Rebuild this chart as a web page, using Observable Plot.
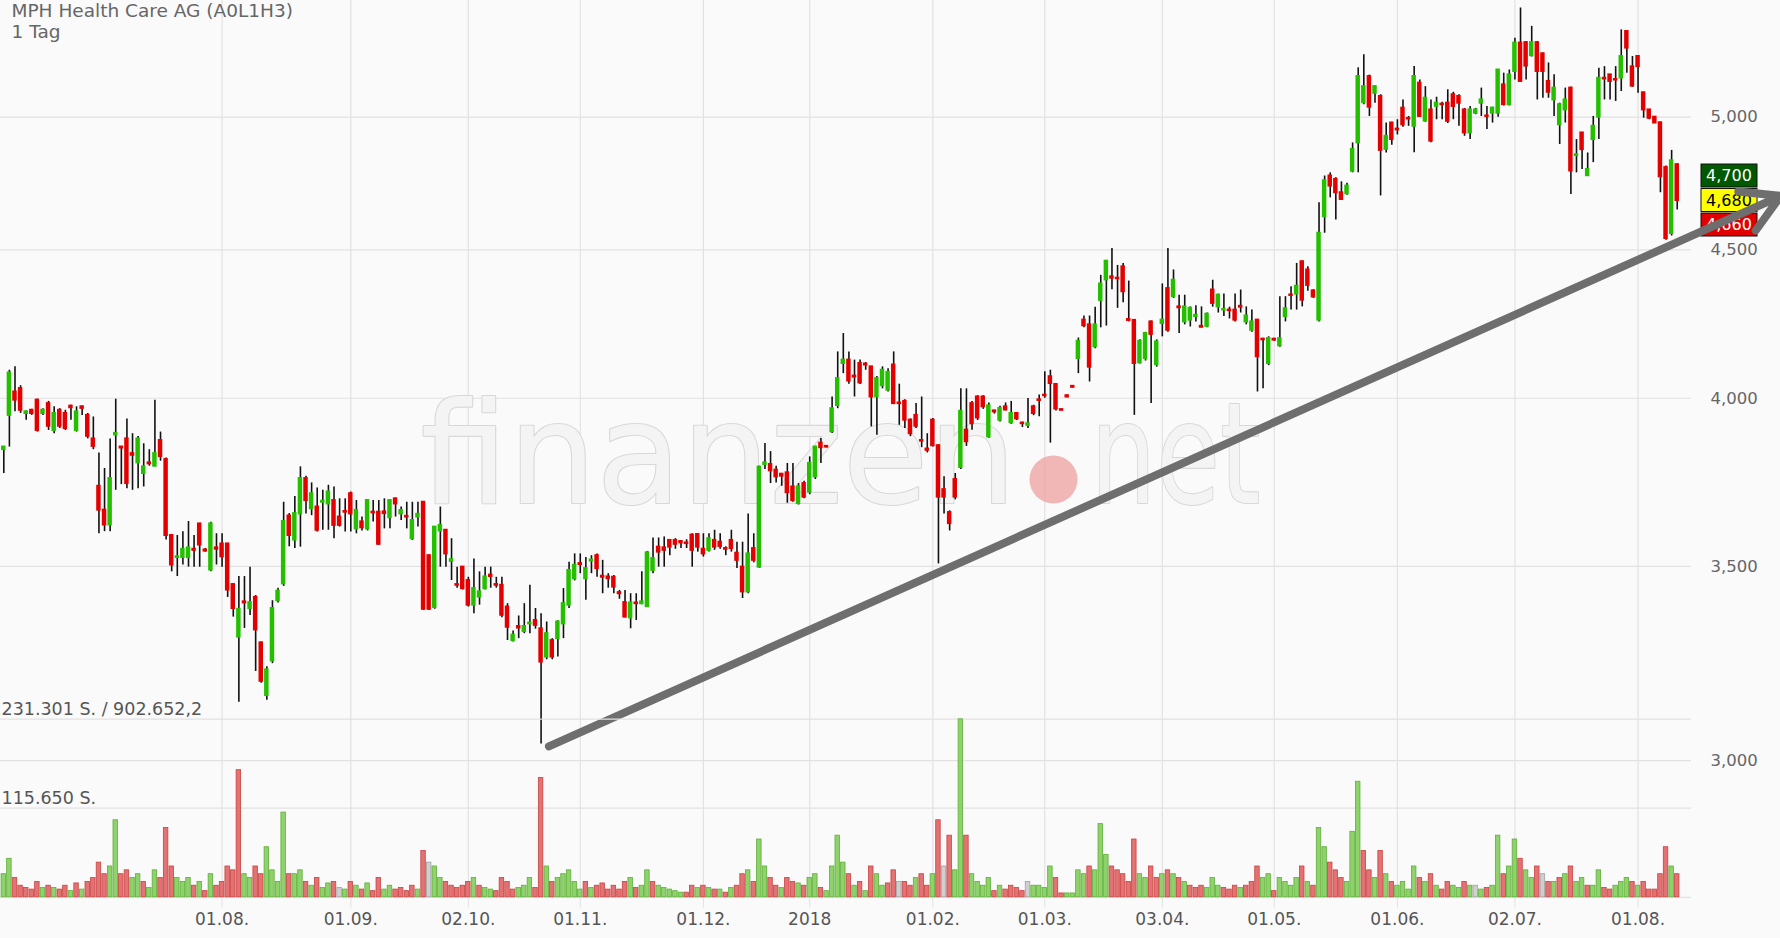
<!DOCTYPE html>
<html><head><meta charset="utf-8">
<script src="https://cdn.jsdelivr.net/npm/d3@7"></script>
<script src="https://cdn.jsdelivr.net/npm/@observablehq/plot@0.6"></script>
<style>
html,body{margin:0;padding:0;background:#fafafa;}
#wrap{position:relative;width:1780px;height:938px;overflow:hidden;background:#fafafa;}
#wrap svg{position:absolute;left:0;top:0;}
</style></head><body><div id="wrap"></div>
<script>
// daily candles [open, high, low, close], late June 2017 .. early August 2018
const ohlc = [
[3840,3850,3768,3848],[3946,4090,3848,4081],[4020,4101,3957,3994],[4031,4040,3952,3962],[3952,3960,3931,3957],
[3962,3965,3946,3952],[3994,3997,3894,3899],[3952,3967,3946,3962],[3983,3990,3899,3912],[3899,3973,3889,3952],
[3962,3967,3905,3912],[3952,3962,3899,3905],[3975,3978,3931,3970],[3899,3973,3894,3957],[3973,3975,3946,3968],
[3946,3952,3873,3881],[3873,3941,3840,3850],[3730,3830,3592,3660],[3660,3783,3598,3617],[3617,3873,3598,3753],
[3885,3997,3718,3890],[3848,3850,3735,3845],[3873,3935,3723,3738],[3828,3889,3718,3823],[3800,3880,3723,3873],
[3768,3858,3728,3788],[3800,3840,3790,3797],[3790,3994,3788,3828],[3868,3894,3805,3819],[3810,3815,3574,3587],
[3587,3590,3485,3504],[3525,3587,3472,3527],[3525,3598,3504,3548],[3525,3627,3498,3552],[3548,3587,3498,3545],
[3620,3622,3498,3560],[3546,3550,3540,3543],[3490,3625,3485,3620],[3552,3592,3504,3548],[3563,3592,3498,3527],
[3563,3565,3415,3435],[3450,3452,3362,3385],[3309,3472,3142,3383],[3403,3472,3332,3400],[3385,3498,3366,3401],
[3415,3420,3220,3328],[3294,3296,3190,3195],[3159,3232,3147,3224],[3247,3406,3240,3385],[3406,3440,3400,3432],
[3452,3683,3445,3627],[3643,3650,3555,3587],[3574,3700,3550,3650],[3649,3788,3554,3753],
[3753,3760,3649,3688],[3664,3740,3644,3708],[3669,3725,3597,3602],[3683,3718,3602,3686],[3678,3733,3602,3713],
[3688,3728,3578,3616],[3640,3693,3611,3616],[3656,3693,3597,3654],[3708,3713,3597,3649],[3606,3688,3592,3659],
[3626,3640,3600,3609],[3606,3690,3600,3688],[3654,3688,3626,3652],[3654,3688,3559,3562],[3655,3693,3606,3650],
[3638,3690,3606,3688],[3693,3695,3640,3678],[3649,3669,3630,3659],[3642,3683,3606,3640],[3578,3683,3573,3630],
[3640,3683,3611,3648],[3683,3685,3380,3383],[3530,3532,3380,3383],[3388,3611,3383,3611],[3600,3669,3498,3616],
[3602,3604,3498,3535],[3514,3578,3461,3519],[3450,3498,3440,3448],[3498,3500,3435,3439],[3461,3470,3389,3394],
[3394,3521,3371,3439],[3416,3485,3394,3430],[3439,3498,3435,3471],[3476,3498,3440,3472],[3450,3470,3440,3448],
[3448,3470,3360,3367],[3389,3398,3300,3335],[3300,3325,3296,3314],[3337,3365,3305,3333],[3324,3398,3318,3337],
[3344,3448,3318,3346],[3353,3385,3330,3340],[3331,3371,3040,3244],[3257,3349,3250,3318],[3300,3305,3250,3257],
[3305,3352,3257,3349],[3344,3439,3305,3398],[3394,3512,3385,3489],[3466,3535,3460,3503],[3508,3535,3480,3505],
[3466,3525,3407,3494],[3515,3530,3480,3518],[3530,3535,3470,3494],[3473,3517,3425,3470],[3471,3480,3440,3466],
[3470,3475,3425,3443],[3428,3434,3410,3425],[3401,3434,3360,3362],[3360,3425,3331,3400],[3400,3425,3353,3398],
[3398,3485,3395,3403],[3390,3542,3388,3538],[3489,3580,3480,3522],[3554,3580,3498,3540],[3552,3583,3498,3545],
[3573,3573,3530,3554],[3573,3578,3548,3562],[3570,3573,3550,3566],[3566,3575,3550,3564],[3588,3592,3498,3545],
[3590,3592,3540,3554],[3548,3592,3526,3535],[3545,3592,3540,3578],[3573,3602,3545,3554],[3568,3592,3548,3556],
[3550,3555,3530,3548],[3573,3602,3540,3550],[3537,3568,3494,3517],[3498,3568,3412,3430],[3430,3649,3425,3535],
[3550,3592,3510,3517],[3498,3790,3495,3787],[3795,3859,3780,3800],[3795,3834,3738,3776],[3778,3790,3740,3758],
[3766,3768,3730,3760],[3770,3798,3680,3711],[3728,3798,3683,3688],[3679,3738,3675,3728],[3738,3745,3693,3698],
[3713,3818,3705,3798],[3758,3850,3750,3848],[3860,3874,3798,3846],[3850,3852,3845,3848],[3895,4004,3890,3967],
[3977,4150,3967,4063],[4112,4211,4079,4123],[4123,4150,4045,4055],[4071,4123,4004,4068],[4112,4123,4044,4049],
[4110,4115,4090,4107],[4101,4101,3910,4004],[4004,4070,3884,4063],[4040,4101,4030,4090],[4026,4095,4020,4083],
[4107,4150,3980,3983],[3985,4045,3915,3983],[3990,3995,3905,3931],[3931,3935,3880,3889],[3946,3983,3905,3912],
[3868,4004,3846,3866],[3842,3889,3830,3838],[3931,3936,3848,3852],[3852,3855,3507,3698],[3720,3758,3649,3698],
[3653,3658,3600,3621],[3750,3768,3690,3698],[3786,4030,3780,3959],[3900,4030,3850,3864],[3983,3990,3900,3920],
[4004,4008,3930,3938],[4004,4008,3965,3973],[3879,3985,3875,3976],[3960,3962,3950,3957],[3931,3975,3925,3968],
[3973,3985,3960,3963],[3923,3990,3918,3952],[3952,3955,3930,3935],[3922,3925,3908,3920],[3915,3999,3905,3920],
[3973,3978,3945,3952],[3995,4010,3942,3993],[4010,4085,4000,4008],[4069,4090,3860,4047],[4044,4047,3960,3966],
[3964,3966,3960,3962],[4008,4010,4002,4004],[4038,4040,4033,4035],[4128,4196,4079,4185],[4256,4270,4230,4237],
[4240,4270,4052,4100],[4167,4300,4160,4240],[4323,4410,4230,4380],[4394,4462,4236,4460],[4405,4505,4360,4400],
[4400,4445,4296,4398],[4440,4452,4315,4353],[4258,4390,4250,4255],[4255,4258,3946,4112],[4114,4190,4110,4185],
[4128,4215,4120,4211],[4250,4253,3983,4208],[4108,4190,4100,4183],[4245,4380,4200,4256],[4364,4505,4215,4222],
[4336,4429,4330,4393],[4301,4341,4211,4298],[4250,4341,4240,4301],[4256,4301,4233,4296],[4268,4305,4250,4272],
[4235,4301,4230,4232],[4235,4280,4230,4276],[4359,4393,4300,4313],[4301,4345,4280,4341],[4290,4345,4268,4292],
[4290,4300,4260,4288],[4290,4345,4250,4256],[4303,4359,4280,4300],[4250,4301,4240,4270],[4222,4290,4215,4250],
[4256,4258,4020,4134],[4192,4195,4030,4190],[4112,4200,4105,4194],[4192,4195,4185,4189],[4170,4336,4165,4194],
[4268,4336,4250,4295],[4342,4370,4290,4340],[4345,4452,4290,4372],[4458,4460,4301,4324],[4429,4440,4355,4375],
[4356,4360,4330,4335],[4256,4672,4250,4560],[4620,4772,4560,4754],[4772,4784,4690,4734],[4759,4765,4608,4709],
[4709,4750,4680,4684],[4705,4745,4700,4734],[4790,4899,4784,4874],[4899,5200,4784,5164],[5058,5254,5050,5123],
[5164,5170,5003,5040],[5096,5125,5056,5123],[5083,5090,4697,4870],[4874,4977,4860,4925],[4977,4980,4890,4912],
[4953,4990,4930,4950],[5036,5069,4960,4970],[4995,5003,4964,4993],[4964,5205,4861,5164],[5137,5150,4999,5003],
[4985,5123,4980,5076],[5029,5069,4900,4906],[5043,5080,4990,5056],[5052,5060,4990,5050],[5056,5110,4975,4984],
[5090,5100,4990,5043],[5083,5090,4964,5056],[5029,5035,4925,4938],[4938,5043,4912,5029],[5016,5035,5010,5029],
[5056,5117,5003,5069],[5005,5043,4951,5003],[5016,5040,4977,5036],[5016,5191,5000,5191],[5130,5178,5045,5050],
[5050,5191,5045,5171],[5185,5324,5150,5303],[5303,5453,5140,5144],[5305,5310,5150,5207],[5250,5374,5245,5305],
[5305,5310,5069,5185],[5258,5262,5076,5185],[5144,5220,5076,5100],[5069,5171,5003,5117],[4970,5056,4893,5050],
[5029,5117,4977,5069],[5117,5120,4702,4791],[4850,4912,4784,4853],[4938,4940,4797,4873],[4773,4860,4772,4797],
[4912,5003,4823,4964],[5000,5198,4912,5157],[5157,5205,5069,5154],[5171,5171,5069,5144],[5152,5205,5063,5150],
[5158,5359,5103,5247],[5352,5355,5178,5282],[5204,5247,5120,5125],[5247,5250,5096,5205],[5098,5100,4996,5029],
[5029,5030,4990,4996],[5000,5003,4975,4977],[4978,4980,4709,4769],[4804,4810,4535,4541],[4559,4870,4550,4830],
[4815,4818,4645,4680]
];
// daily volume, thousands of shares
const volumeK = [
30,50,25,15,12,10,20,12,15,12, 10,15,8,18,10,20,25,45,30,40,
100,30,35,25,30,20,12,35,25,90, 40,25,20,25,15,20,8,30,15,20,
40,35,165,30,25,40,30,65,35,20, 110,30,30,35,20,15,25,12,18,20,
12,10,20,15,10,18,8,25,10,15, 10,12,8,15,10,60,45,40,25,20,
15,12,15,20,25,15,12,10,8,25, 20,10,12,15,25,12,155,40,20,25,
30,35,20,10,20,12,15,18,10,15, 10,20,25,12,15,35,20,15,12,10,
8,6,6,15,12,15,12,10,10,6, 12,15,30,35,20,75,40,25,15,12,
25,20,18,15,25,30,12,8,40,80, 45,30,15,20,8,40,30,15,18,35,
20,20,15,25,30,15,30,100,40,80, 35,231,80,30,20,15,25,8,15,10,
15,12,8,20,15,15,12,40,25,5, 5,5,35,30,40,35,95,55,40,35,
30,20,75,30,25,40,25,30,35,30, 25,20,15,12,15,12,25,15,12,10,
15,12,15,20,40,25,30,8,25,20, 15,25,40,20,15,90,65,45,35,25,
20,85,150,60,35,25,60,30,20,15, 20,10,40,25,20,30,15,10,20,15,
12,20,15,15,10,12,15,80,30,40, 75,50,35,25,40,30,20,20,25,30,
40,20,25,15,15,35,12,10,15,20, 25,20,15,20,10,10,30,65,40,30
];
const tickIndex  = [39,62,83,103,125,144,166,186,207,227,249,270,292];
const tickLabels = ["01.08.","01.09.","02.10.","01.11.","01.12.","2018","01.02.","01.03.","03.04.","01.05.","01.06.","02.07.","01.08."];
const priceTicks = [3000,3500,4000,4500,5000];
const volumeTicks = [115.650, 231.301];
const volumeLabels = ["115.650 S.", "231.301 S. / 902.652,2"];
const titleText = "MPH Health Care AG (A0L1H3)";
const periodText = "1 Tag";
const quoteTags = [
  {label:"4,700", bg:"#005800", fg:"#ffffff", slot:-1},
  {label:"4,680", bg:"#ffff00", fg:"#000000", slot:0},
  {label:"4,660", bg:"#e00000", fg:"#ffffff", slot:1}
];
const trend = [{i1: 97.4, p1: 3034, i2: 317.5, p2: 4697}];

const W = 1780, H = 938, MR = 89, MB = 41.2, VOL_TOP = 718.6;
const xDomain = [-0.59, 301.55];
const GREEN = "#24c000", RED = "#e40000";
const FONT = "DejaVu Sans, Verdana, sans-serif";

const candles = ohlc.map(([o,h,l,c], i) => ({
  i, o, h, l, c, v: volumeK[i],
  dir: i === 0 ? 1 : Math.sign(c - ohlc[i-1][3])
}));

const wmStyle = {frameAnchor: "top-left", textAnchor: "start", lineAnchor: "bottom", dy: 502,
  fontSize: 140, fontFamily: FONT, fill: "#f4f4f4", stroke: "#d8d8d8", strokeWidth: 2.2};

const price = Plot.plot({
  width: W, height: H, marginLeft: 0, marginRight: MR, marginTop: 0, marginBottom: MB,
  style: {background: "#fafafa", fontFamily: FONT},
  x: {type: "linear", domain: xDomain, axis: null},
  y: {type: "log", domain: [2691.4, 5485.5], axis: null},
  marks: [
    Plot.ruleY(priceTicks, {stroke: "#e2e2e2", strokeWidth: 1.2}),
    Plot.ruleX(tickIndex, {stroke: "#e2e2e2", strokeWidth: 1.2}),
    Plot.axisX(tickIndex, {tickSize: 11, tickPadding: 5, stroke: "#e2e2e2", fill: "#555", fontSize: 17,
      tickFormat: d => tickLabels[tickIndex.indexOf(d)]}),
    Plot.axisY(priceTicks, {anchor: "right", tickSize: 0, tickPadding: 19, fill: "#666", fontSize: 16.5,
      tickFormat: d3.format(",")}),
    // watermark
    Plot.text(["finanzen"], {...wmStyle, dx: 420}),
    Plot.text(["net"], {...wmStyle, dx: 1090}),
    Plot.dot([0], {frameAnchor: "top-left", dx: 1053, dy: 479, r: 24, fill: "#eea0a0", fillOpacity: 0.75, stroke: "none"}),
    // title
    Plot.text([titleText], {frameAnchor: "top-left", dx: 11, dy: 3, lineAnchor: "top",
      textAnchor: "start", fontSize: 18.5, fill: "#666"}),
    Plot.text([periodText], {frameAnchor: "top-left", dx: 11, dy: 24, lineAnchor: "top",
      textAnchor: "start", fontSize: 18.5, fill: "#666"}),
    // candles
    Plot.ruleX(candles, {x: "i", y1: "l", y2: "h", stroke: "#111", strokeWidth: 1.6}),
    Plot.rect(candles, {x1: d => d.i - 0.4, x2: d => d.i + 0.4, y1: "o", y2: "c",
      fill: d => d.c >= d.o ? GREEN : RED, insetTop: -1, insetBottom: -1}),
    Plot.arrow(trend, {x1: "i1", y1: "p1", x2: "i2", y2: "p2", stroke: "#6e6e6e", strokeWidth: 8,
      strokeLinecap: "round", strokeLinejoin: "round"})
  ]
});

const volume = Plot.plot({
  width: W, height: H, marginLeft: 0, marginRight: MR, marginTop: VOL_TOP, marginBottom: MB,
  style: {background: "transparent", fontFamily: FONT},
  x: {type: "linear", domain: xDomain, axis: null},
  y: {type: "linear", domain: [0, 231.301], axis: null},
  marks: [
    Plot.ruleY([0], {stroke: "#dcdcdc"}),
    Plot.ruleY(volumeTicks, {stroke: "#e2e2e2", strokeWidth: 1.2}),
    Plot.rectY(candles, {x1: d => d.i - 0.4, x2: d => d.i + 0.4, y: "v",
      fill: d => d.dir > 0 ? "#8ed26c" : d.dir < 0 ? "#e47272" : "#cfcfcf",
      stroke: d => d.dir > 0 ? "#5fae38" : d.dir < 0 ? "#c84242" : "#a0a0a0", strokeWidth: 0.8}),
    Plot.text(volumeTicks, {y: d => d, text: (d, i) => volumeLabels[i], frameAnchor: "left", textAnchor: "start",
      lineAnchor: "bottom", dx: 1, dy: -4, fontSize: 17.5, fill: "#555"})
  ]
});

const wrap = document.getElementById("wrap");
wrap.appendChild(price);
wrap.appendChild(volume);

const svg = d3.select(price);
// fit watermark words to their widths
svg.selectAll("text").filter(function() { return this.textContent === "finanzen"; })
  .attr("textLength", 596).attr("lengthAdjust", "spacingAndGlyphs");
svg.selectAll("text").filter(function() { return this.textContent === "net"; })
  .attr("textLength", 170).attr("lengthAdjust", "spacingAndGlyphs");

// quote tags next to the last price
const ys = price.scale("y");
const last = ohlc[ohlc.length - 1][3];
const yc = ys.apply(last);
const g = svg.append("g");
quoteTags.forEach(t => {
  const yy = yc + t.slot * 24.5;
  g.append("rect").attr("x", 1701).attr("y", yy - 11.5).attr("width", 56).attr("height", 23)
    .attr("fill", t.bg).attr("stroke", "#111").attr("stroke-width", 1);
  g.append("text").attr("x", 1729).attr("y", yy).attr("text-anchor", "middle").attr("dy", "0.36em")
    .attr("font-family", FONT).attr("font-size", 16).attr("fill", t.fg).text(t.label);
});
svg.selectAll('g[aria-label="arrow"]').raise();
</script>
</body></html>
